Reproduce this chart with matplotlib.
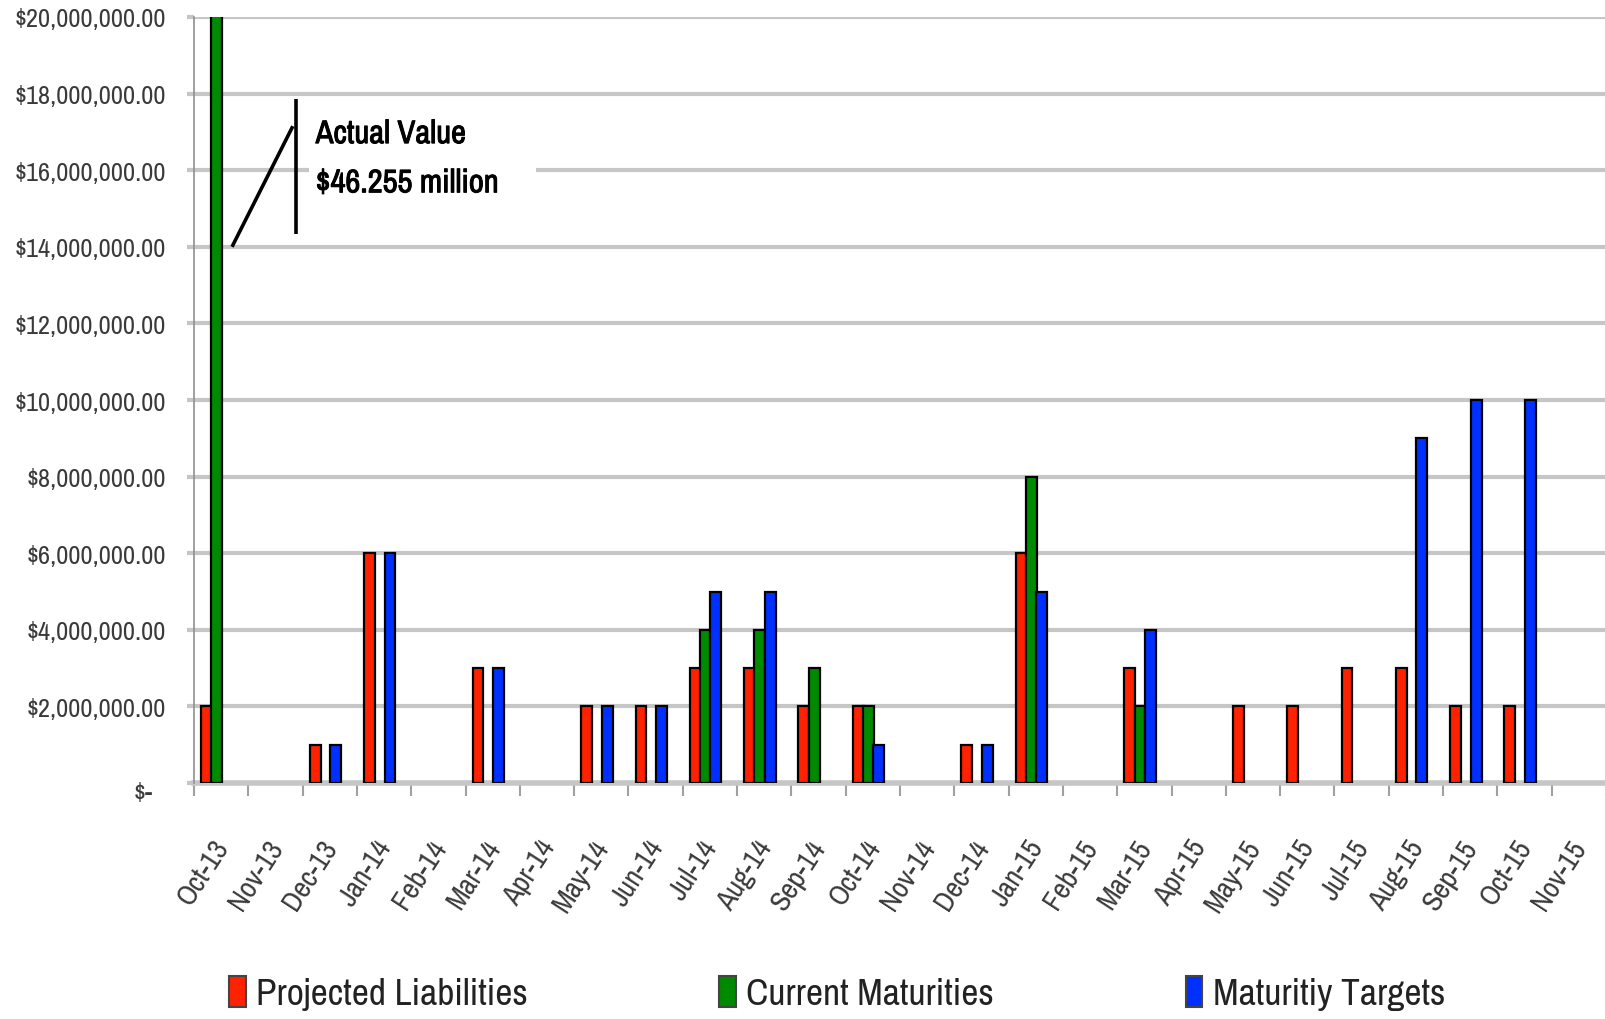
import matplotlib
matplotlib.use("Agg")
import numpy as np
import matplotlib.pyplot as plt
from matplotlib.patches import Patch
from matplotlib.ticker import FuncFormatter, MultipleLocator
import matplotlib.transforms as mtransforms
import matplotlib.patheffects as pe


# ------------------------------------------------------------
# DATA
# ------------------------------------------------------------
MONTHS = ["Oct-13", "Nov-13", "Dec-13", "Jan-14", "Feb-14", "Mar-14", "Apr-14",
          "May-14", "Jun-14", "Jul-14", "Aug-14", "Sep-14", "Oct-14", "Nov-14",
          "Dec-14", "Jan-15", "Feb-15", "Mar-15", "Apr-15", "May-15", "Jun-15",
          "Jul-15", "Aug-15", "Sep-15", "Oct-15", "Nov-15"]

PROJECTED_LIABILITIES = [2e6, 0, 1e6, 6e6, 0, 3e6, 0, 2e6, 2e6, 3e6, 3e6, 2e6, 2e6,
                         0, 1e6, 6e6, 0, 3e6, 0, 2e6, 2e6, 3e6, 3e6, 2e6, 2e6, 0]
CURRENT_MATURITIES = [46.255e6, 0, 0, 0, 0, 0, 0, 0, 0, 4e6, 4e6, 3e6, 2e6,
                      0, 0, 8e6, 0, 2e6, 0, 0, 0, 0, 0, 0, 0, 0]
MATURITY_TARGETS = [0, 0, 1e6, 6e6, 0, 3e6, 0, 2e6, 2e6, 5e6, 5e6, 0, 1e6,
                    0, 1e6, 5e6, 0, 4e6, 0, 0, 0, 0, 9e6, 10e6, 10e6, 0]

SERIES_NAMES = ["Projected Liabilities", "Current Maturities", "Maturitiy Targets"]
COLORS = ["#ff2200", "#008a00", "#0030ff"]

Y_MAX = 20_000_000
ANNOT_TEXT = "Actual Value\n$46.255 million    "
ZERO_LABEL = "$-"

FONT = ["Archivo Narrow", "Liberation Sans", "DejaVu Sans"]
GRID_COLOR = "#c6c6c6"
LABEL_COLOR = "#3a3a3a"
DPI = 100


def money(v, _pos):
    # zero gets its own label below (it sits lower/left in the original)
    if v == 0:
        return ""
    return "${:,.2f}".format(v)


def main():
    plt.rcParams["font.family"] = FONT

    fig = plt.figure(figsize=(16.06, 10.20), dpi=DPI)
    ax = fig.add_axes([194 / 1606, 236 / 1020, 1412 / 1606, 766 / 1020])

    x = np.arange(len(MONTHS))
    width = 0.2
    offsets = [-0.27, -0.08, 0.11]
    series = [PROJECTED_LIABILITIES, CURRENT_MATURITIES, MATURITY_TARGETS]

    for vals, off, col, name in zip(series, offsets, COLORS, SERIES_NAMES):
        vals = np.array(vals, dtype=float)
        mask = vals > 0
        ax.bar(x[mask] + off, vals[mask], width=width, color=col,
               edgecolor="black", linewidth=1.6, label=name, zorder=3)

    # axes styling
    ax.set_xlim(-0.5, len(MONTHS) - 0.5)
    ax.set_ylim(0, Y_MAX)
    ax.yaxis.set_major_locator(MultipleLocator(2_000_000))
    ax.yaxis.set_major_formatter(FuncFormatter(money))
    ax.grid(axis="y", color=GRID_COLOR, linewidth=3.0, zorder=0)
    ax.set_axisbelow(True)
    for s in ["top", "right", "bottom"]:
        ax.spines[s].set_visible(False)
    ax.spines["left"].set_color("#909090")
    ax.spines["left"].set_linewidth(1.2)
    ax.axhline(0, color=GRID_COLOR, linewidth=4.0, zorder=1, clip_on=False)

    ax.tick_params(axis="y", length=5, width=3, color=GRID_COLOR,
                   labelsize=19, labelcolor=LABEL_COLOR, pad=15)
    ax.set_xticks(x)
    ax.set_xticklabels(MONTHS, rotation=57, ha="right", rotation_mode="anchor",
                       fontsize=21, color=LABEL_COLOR)
    ax.tick_params(axis="x", which="major", length=0, pad=37)
    ax.set_xticks(np.arange(len(MONTHS) + 1) - 0.5, minor=True)
    ax.tick_params(axis="x", which="minor", length=9, width=1.5, color="#a0a0a0")

    # month labels sit a bit left of the category centre in the original
    shift_x = mtransforms.ScaledTranslation(-10 / DPI, 0, fig.dpi_scale_trans)
    for lab in ax.get_xticklabels():
        lab.set_transform(lab.get_transform() + shift_x)

    ax.annotate(ZERO_LABEL, xy=(0, 0), xycoords=("axes fraction", "data"),
                xytext=(-51, -10), textcoords="offset pixels",
                ha="center", va="center", fontsize=19, color=LABEL_COLOR,
                annotation_clip=False)

    # note for the clipped green bar
    ax.plot([0.2, 1.32], [14.0e6, 17.15e6], color="black", linewidth=2.6,
            zorder=5, solid_capstyle="butt")
    ax.plot([1.38, 1.38], [14.33e6, 17.86e6], color="black", linewidth=2.6,
            zorder=5, solid_capstyle="butt")
    ax.text(1.74, 16.3e6, ANNOT_TEXT, fontsize=23.5, color="black",
            ha="left", va="center", linespacing=1.8, zorder=4,
            path_effects=[pe.withStroke(linewidth=0.7, foreground="black")],
            bbox=dict(facecolor="white", edgecolor="none", pad=5))

    # legend
    handles = [Patch(facecolor=c, edgecolor="#444444", linewidth=1.5) for c in COLORS]
    fig.legend(handles, SERIES_NAMES, loc="center", bbox_to_anchor=(837 / 1606, 1 - 994 / 1020),
               ncol=3, frameon=False, fontsize=27, columnspacing=5.1,
               handlelength=0.45, handleheight=0.9, handletextpad=0.28,
               labelcolor="#222222")

    fig.savefig("out.png", dpi=DPI)
    plt.close(fig)


if __name__ == "__main__":
    main()
